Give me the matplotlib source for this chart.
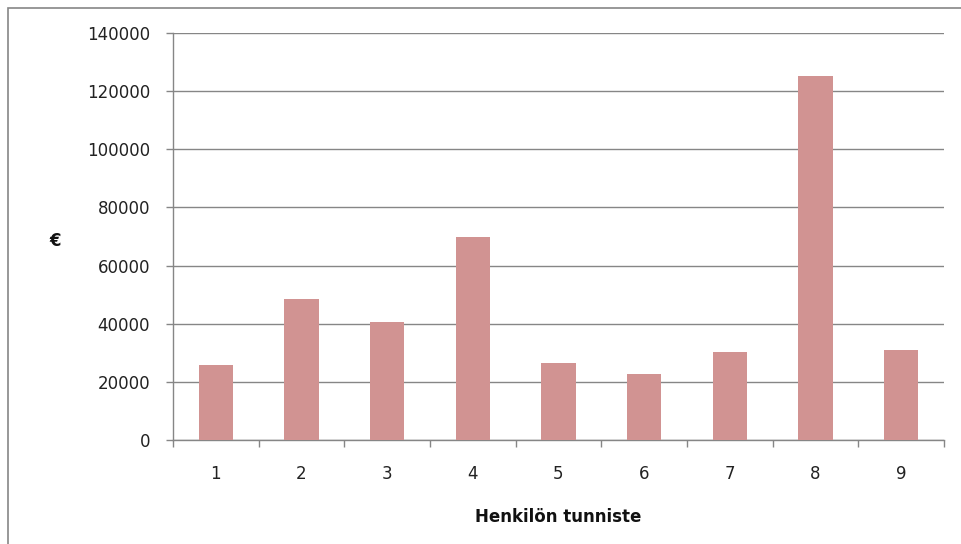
import matplotlib
matplotlib.use("Agg")
import matplotlib.pyplot as plt
from matplotlib.patches import Rectangle
from matplotlib.ticker import FixedLocator, NullFormatter

# Amounts per person
person_ids = ["1", "2", "3", "4", "5", "6", "7", "8", "9"]
amounts = [25800, 48500, 40600, 70000, 26400, 22800, 30200, 125200, 30900]
y_ticks = [0, 20000, 40000, 60000, 80000, 100000, 120000, 140000]

W, H = 961, 544
fig = plt.figure(figsize=(W / 100, H / 100), dpi=100)
fig.patch.set_facecolor("white")

# Outer chart frame
fig.patches.append(Rectangle((8 / W, -0.05), 1.2, (H - 8) / H + 0.05,
                             transform=fig.transFigure, fill=False,
                             edgecolor="#868686", linewidth=1.2))

left, right = 173 / W, 944 / W
bottom, top = (H - 440) / H, (H - 33) / H
ax = fig.add_axes([left, bottom, right - left, top - bottom])

x = list(range(1, len(person_ids) + 1))
ax.bar(x, amounts, width=0.4, color="#D19392", zorder=3)

ax.set_xlim(0.5, len(person_ids) + 0.5)
ax.set_ylim(0, 140000)

grid_col = "#868686"
ax.set_yticks(y_ticks)
ax.set_yticklabels([str(v) for v in y_ticks])
ax.yaxis.grid(True, color=grid_col, linewidth=1.0, zorder=0)

# Category boundaries carry the tick marks, labels sit at the centres
ax.xaxis.set_major_locator(FixedLocator([i + 0.5 for i in range(0, len(person_ids) + 1)]))
ax.xaxis.set_major_formatter(NullFormatter())
ax.xaxis.set_minor_locator(FixedLocator(x))
ax.set_xticklabels(person_ids, minor=True)
ax.tick_params(axis="x", which="major", length=5, color=grid_col, width=1.0)
ax.tick_params(axis="x", which="minor", length=0, pad=18, labelsize=12, labelcolor="#222222")
ax.tick_params(axis="y", length=5, color=grid_col, width=1.0, pad=11.5,
               labelsize=12, labelcolor="#222222")

for side in ("top", "right"):
    ax.spines[side].set_visible(False)
for side in ("left", "bottom"):
    ax.spines[side].set_color(grid_col)
    ax.spines[side].set_linewidth(1.0)

ax.set_xlabel("Henkilön tunniste", fontsize=12, fontweight="bold",
              labelpad=18, color="#111111")
fig.text(55 / W, 1 - 241 / H, "€", fontsize=12, fontweight="bold",
         ha="center", va="center", color="#111111")

fig.savefig("out.png", dpi=100)
